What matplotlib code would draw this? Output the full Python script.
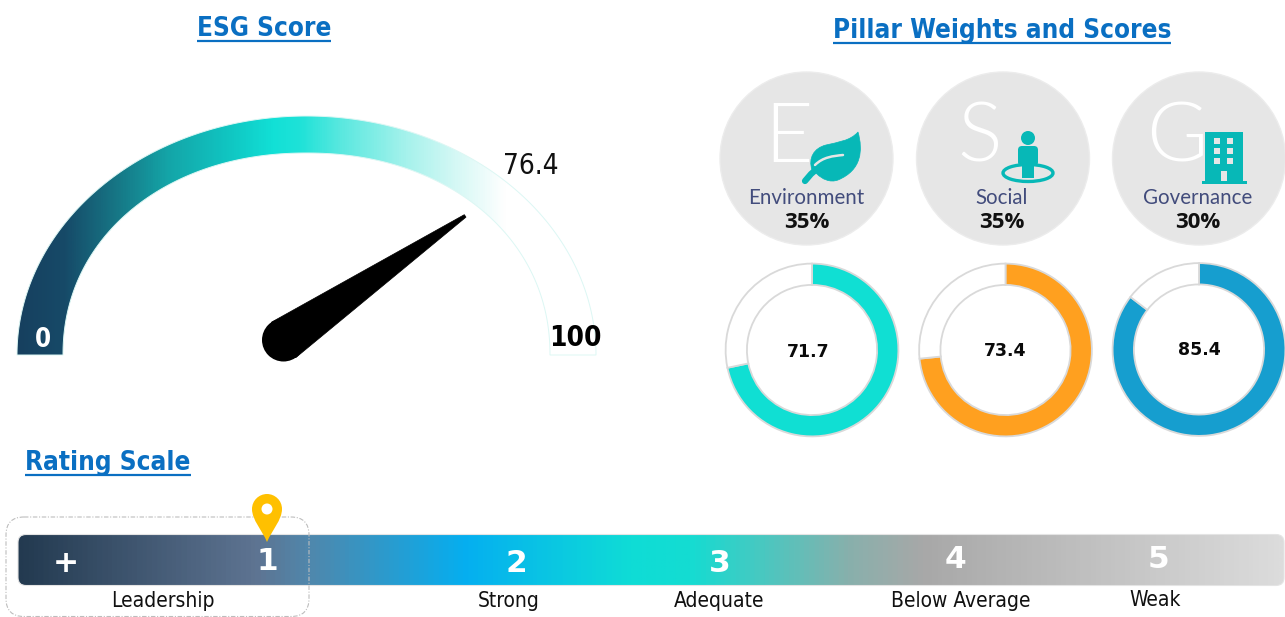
import numpy as np
import matplotlib
matplotlib.use("Agg")
import matplotlib.pyplot as plt
from matplotlib.colors import LinearSegmentedColormap
from matplotlib.patches import Circle, Ellipse, FancyBboxPatch, PathPatch, Rectangle, Polygon
from matplotlib.path import Path

W, H = 1285, 617

# ---- data
esg_score = 76.4
gauge_min, gauge_max = 0, 100
pillar_names = ["Environment", "Social", "Governance"]
pillar_weights = [35, 35, 30]
pillar_scores = [71.7, 73.4, 85.4]
pillar_letters = ["E", "S", "G"]
pillar_colors = ["#10dfd3", "#ffa01f", "#169ecf"]
rating_marks = ["+", "1", "2", "3", "4", "5"]
rating_labels = ["Leadership", "Strong", "Adequate", "Below Average", "Weak"]
current_rating = "1"

# ---- layout
TEAL = "#07b8b7"
BLUE = "#0a6fc2"
FONT = ["DejaVu Sans"]

fig = plt.figure(figsize=(W / 100, H / 100), dpi=100, facecolor="white")
ax = fig.add_axes([0, 0, 1, 1])
ax.set_axis_off()
ax.set_xlim(0, W)
ax.set_ylim(H, 0)
ax.set_autoscale_on(False)


def title(s, x, y):
    t = ax.text(x, y + 2, s, color=BLUE, fontsize=18.7, fontweight="bold", family=FONT,
                ha="center", va="center", zorder=10, stretch="condensed")
    fig.canvas.draw()
    bb = t.get_window_extent(fig.canvas.get_renderer())
    ax.plot([bb.x0, bb.x1], [y + 13.5, y + 13.5], color=BLUE, lw=1.6, zorder=10,
            solid_capstyle="butt")


title("ESG Score", 264, 27.5)
title("Pillar Weights and Scores", 1002, 29.5)
title("Rating Scale", 108, 461)

# ---- gauge
cx, cy = 306.5, 355
rx_o, ry_o, rx_i, ry_i = 289.5, 239, 243.5, 202
t = np.linspace(np.pi, 0, 300)
outer = np.c_[cx + rx_o * np.cos(t), cy - ry_o * np.sin(t)]
e = 2.1
ct, st = np.cos(t[::-1]), np.sin(t[::-1])
inner = np.c_[cx + rx_i * np.sign(ct) * np.abs(ct) ** (2 / e),
              cy - ry_i * np.abs(st) ** (2 / e)]
verts = np.r_[outer, inner, outer[:1]]
codes = [Path.MOVETO] + [Path.LINETO] * (len(verts) - 2) + [Path.CLOSEPOLY]
band = Path(verts, codes)

x0, x1 = cx - rx_o, cx + rx_o
gauge_cmap = LinearSegmentedColormap.from_list(
    "gauge",
    [(0.0, "#17405f"), (0.08, "#164a68"), (0.178, "#167a88"), (0.26, "#14a5a8"),
     (0.373, "#10c8c4"), (0.442, "#12e0d6"), (0.49, "#1fe2d8"), (0.558, "#58e8df"),
     (0.674, "#a6f2ec"), (0.76, "#d5f8f5"), (0.845, "#ffffff"), (1.0, "#ffffff")])
im = ax.imshow(np.linspace(0, 1, 600)[None, :], cmap=gauge_cmap, aspect="auto",
               extent=[x0, x1, cy, cy - ry_o], zorder=1, vmin=0, vmax=1)
bp = PathPatch(band, transform=ax.transData, fc="none", ec="none")
ax.add_patch(bp)
im.set_clip_path(bp)
ax.add_patch(PathPatch(band, fc="none", ec="#dcf7f4", lw=0.7, zorder=2))

# needle from the score
frac = (esg_score - gauge_min) / (gauge_max - gauge_min)
angle = np.deg2rad(180 * (1 - frac))
piv = np.array([283.5, 340.0])
needle_len = 220.0
d = np.array([np.cos(angle), -np.sin(angle) * 0.746])
d = d / np.hypot(*d)
n = np.array([-d[1], d[0]])
tip = piv + d * needle_len
base_r = 21.5
ax.add_patch(Polygon([piv + n * base_r, piv - n * base_r, tip - n * 1.5, tip + n * 1.5],
                     fc="black", ec="black", lw=0.5, zorder=5))
ax.add_patch(Circle(piv, base_r, fc="black", ec="none", zorder=5))

ax.text(43, 340, str(gauge_min), color="white", fontsize=18.5, fontweight="bold",
        family=FONT, ha="center", va="center", zorder=6, stretch="condensed")
ax.text(575, 338, str(gauge_max), color="black", fontsize=20, fontweight="bold",
        family=FONT, ha="center", va="center", zorder=6, stretch="condensed")
ax.text(531, 166, f"{esg_score}", color="#111111", fontsize=20, family=FONT,
        ha="center", va="center", zorder=6, stretch="condensed")

# ---- pillar badges
badge_x = [806.5, 1003, 1199]
badge_y, badge_r = 158.5, 86.5
name_x = [806.5, 1002, 1198]
letter_x = [788, 980, 1177]
for i in range(3):
    ax.add_patch(Circle((badge_x[i], badge_y), badge_r, fc="#e6e6e6", ec="#ececec", lw=1, zorder=1))
    ax.text(letter_x[i], 139, pillar_letters[i], color="white", fontsize=60, family="Lato",
            fontweight=300, ha="center", va="center", zorder=2)
    ax.text(name_x[i], 197.5, pillar_names[i], color="#424c7c", fontsize=14.8, family="Lato",
            ha="center", va="center", zorder=3)
    ax.text(name_x[i], 222, f"{pillar_weights[i]}%", color="#111111", fontsize=16,
            fontweight="bold", family=["Open Sans"], ha="center", va="center", zorder=3)

# leaf icon
L = Path([(858, 132), (863, 150), (862, 170), (838, 180), (830, 183), (822, 179), (817, 174),
          (812, 170), (808, 158), (814, 148), (826, 145), (838, 142), (850, 141), (858, 132),
          (858, 132)],
         [Path.MOVETO, Path.CURVE4, Path.CURVE4, Path.CURVE4, Path.CURVE4, Path.CURVE4, Path.CURVE4,
          Path.LINETO, Path.CURVE4, Path.CURVE4, Path.CURVE4, Path.CURVE4, Path.CURVE4, Path.CURVE4,
          Path.CLOSEPOLY])
ax.add_patch(PathPatch(L, fc=TEAL, ec=TEAL, lw=0.5, zorder=4))
ax.plot([805, 811, 819], [181, 174, 167], color=TEAL, lw=4.5, solid_capstyle="round", zorder=4)
vein = Path([(815, 165), (823, 157), (833, 156), (843, 155)],
            [Path.MOVETO, Path.CURVE4, Path.CURVE4, Path.CURVE4])
ax.add_patch(PathPatch(vein, fc="none", ec="#e6e6e6", lw=1.8, zorder=5, capstyle="round"))

# person icon
ax.add_patch(Ellipse((1028, 173), 50, 17, fc="none", ec=TEAL, lw=2.4, zorder=4))
ax.add_patch(Circle((1028, 138), 7, fc=TEAL, ec="none", zorder=5))
ax.add_patch(FancyBboxPatch((1021, 149), 14, 14, boxstyle="round,pad=3,rounding_size=4",
                            fc=TEAL, ec="none", zorder=5))
ax.add_patch(Rectangle((1022, 160), 12, 18, fc=TEAL, ec="none", zorder=5))

# building icon
ax.add_patch(Rectangle((1205, 132), 38, 50, fc=TEAL, ec="none", zorder=4))
ax.add_patch(Rectangle((1202, 181), 45, 2.5, fc=TEAL, ec="none", zorder=4))
for wx in (1214, 1227):
    for wy in (138, 148, 158):
        ax.add_patch(Rectangle((wx, wy), 6, 6, fc="#e6e6e6", ec="none", zorder=5))
ax.add_patch(Rectangle((1221, 171), 6, 10, fc="#e6e6e6", ec="none", zorder=5))

# ---- donuts
donut_x = [812, 1005.5, 1199]
donut_y = [350, 350, 349.5]
text_x = [808, 1005, 1199]
text_y = [352, 351, 350]
R = 87
for i in range(3):
    a = fig.add_axes([(donut_x[i] - R) / W, 1 - (donut_y[i] + R) / H, 2 * R / W, 2 * R / H])
    a.pie([pillar_scores[i], 100 - pillar_scores[i]], colors=[pillar_colors[i], "white"],
          startangle=90, counterclock=False, radius=0.993,
          wedgeprops=dict(width=0.245, edgecolor="#d9d9d9", linewidth=1.3))
    a.set_xlim(-1, 1)
    a.set_ylim(-1, 1)
    a.set_zorder(3)
    ax.text(text_x[i], text_y[i], f"{pillar_scores[i]}",
            fontsize=12.5, fontweight="bold", family=FONT, color="#0a0a0a",
            ha="center", va="center", zorder=10)
ax.set_zorder(5)
ax.patch.set_alpha(0)

# ---- rating scale
bx0, bx1, by0, by1 = 18, 1284, 534.5, 585.5
span = bx1 - bx0
stops = [(18, "#233a50"), (255, "#5e7492"), (310, "#4f88ad"), (465, "#05aff0"),
         (630, "#0fdcd6"), (690, "#14dcd2"), (850, "#88b0ac"), (925, "#a8a8a8"),
         (1284, "#dcdcdc")]
bar_cmap = LinearSegmentedColormap.from_list("bar", [((x - bx0) / span, c) for x, c in stops])
im2 = ax.imshow(np.linspace(0, 1, 1200)[None, :], cmap=bar_cmap, aspect="auto",
                extent=[bx0, bx1, by1, by0], zorder=1)
bar = FancyBboxPatch((bx0, by0), span, by1 - by0, boxstyle="round,pad=0,rounding_size=8",
                     fc="none", ec="#e4e4e4", lw=0.8, zorder=2)
ax.add_patch(bar)
im2.set_clip_path(bar)

mark_x = [66, 267, 516, 720, 955, 1158]
mark_y = [563, 562, 564, 564, 560, 560]
for s, x, y in zip(rating_marks, mark_x, mark_y):
    ax.text(x, y, s, color="white", fontsize=22.5, fontweight="bold", family=FONT,
            ha="center", va="center", zorder=6)

label_x = [162.5, 509, 719, 960.5, 1155.5]
label_y = [601, 601, 601, 601, 600]
for s, x, y in zip(rating_labels, label_x, label_y):
    ax.text(x, y, s, color="#111111", fontsize=15, family=FONT, stretch="condensed",
            ha="center", va="center", zorder=6)

ax.add_patch(FancyBboxPatch((6, 517), 303, 99.5, boxstyle="round,pad=0,rounding_size=18",
                            fc="none", ec="#bdbdbd", lw=0.8, ls=(0, (4, 1.5, 1, 1.5)),
                            zorder=7, clip_on=False))

# location pin at current rating
px = mark_x[rating_marks.index(current_rating)]
pin = Path([(px, 542), (px - 5, 530), (px - 15, 520), (px - 15, 509), (px - 15, 500.5),
            (px - 8, 494), (px, 494), (px + 8, 494), (px + 15, 500.5), (px + 15, 509),
            (px + 15, 520), (px + 5, 530), (px, 542), (px, 542)],
           [Path.MOVETO, Path.CURVE4, Path.CURVE4, Path.CURVE4, Path.CURVE4, Path.CURVE4, Path.CURVE4,
            Path.CURVE4, Path.CURVE4, Path.CURVE4, Path.CURVE4, Path.CURVE4, Path.CURVE4, Path.CLOSEPOLY])
ax.add_patch(PathPatch(pin, fc="#ffc000", ec="none", zorder=8))
ax.add_patch(Circle((px, 509), 5.5, fc="white", ec="none", zorder=9))

ax.set_xlim(0, W)
ax.set_ylim(H, 0)
fig.savefig("out.png", dpi=100)
